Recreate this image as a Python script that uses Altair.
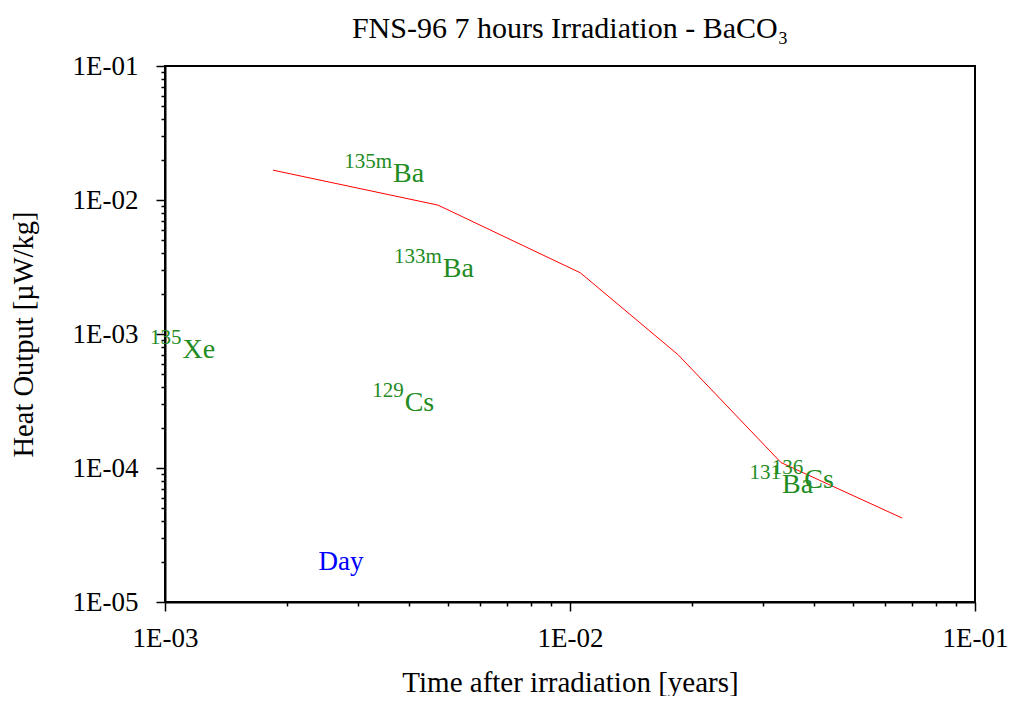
import altair as alt
import pandas as pd

# Heat output curve (years, µW/kg)
line_years = [1.848e-3, 4.72e-3, 1.061e-2, 1.849e-2, 3.32e-2, 6.61e-2]
line_heat = [1.67e-2, 9.16e-3, 2.86e-3, 7.0e-4, 1.097e-4, 4.23e-5]

# Nuclide annotations
label_mass = ["135m", "133m", "135", "129", "131", "136"]
label_elem = ["Ba", "Ba", "Xe", "Cs", "Ba", "Cs"]
label_years = [3.657e-3, 4.853e-3, 1.105e-3, 3.906e-3, 3.339e-2, 3.788e-2]
label_heat = [1.368e-2, 2.642e-3, 6.677e-4, 2.652e-4, 6.55e-5, 7.09e-5]

# Time marker annotation
day_text = ["Day"]
day_years = [2.393e-3]
day_heat = [1.722e-5]

x_ticks = [m * 10.0 ** e for e in (-3, -2) for m in range(1, 10)] + [1e-1]
y_ticks = [m * 10.0 ** e for e in (-5, -4, -3, -2) for m in range(1, 10)] + [1e-1]

FONT = "Liberation Serif"
decade = "abs(log(datum.value)/LN10 - round(log(datum.value)/LN10)) < 0.000001"
label_expr = f"({decade}) ? '1E-0' + (-round(log(datum.value)/LN10)) : ''"
tick_size = {"condition": {"test": decade, "value": 9}, "value": 4}

line_df = pd.DataFrame({"x": line_years, "y": line_heat})
lab_df = pd.DataFrame({"x": label_years, "y": label_heat, "mass": label_mass, "elem": label_elem})
day_df = pd.DataFrame({"x": day_years, "y": day_heat, "t": day_text})

x_scale = alt.Scale(type="log", domain=[1e-3, 1e-1], nice=False)
y_scale = alt.Scale(type="log", domain=[1e-5, 1e-1], nice=False)

x_axis = alt.Axis(
    values=x_ticks, labelExpr=label_expr, tickSize=tick_size, tickWidth=1.5,
    tickColor="black", domainColor="black", domainWidth=2, grid=False,
    labelFont=FONT, labelFontSize=27, labelColor="black", labelPadding=14,
    labelOverlap=False, labelFlush=False, labelBound=False,
    title="Time after irradiation [years]", titleFont=FONT, titleFontSize=29,
    titleFontWeight="normal", titleColor="black", titlePadding=17,
)
y_axis = alt.Axis(
    values=y_ticks, labelExpr=label_expr, tickSize=tick_size, tickWidth=1.5,
    tickColor="black", domainColor="black", domainWidth=2, grid=False,
    labelFont=FONT, labelFontSize=27, labelColor="black", labelPadding=18,
    labelOverlap=False, labelFlush=False, labelBound=False,
    title="Heat Output [µW/kg]", titleFont=FONT, titleFontSize=28.5,
    titleFontWeight="normal", titleColor="black", titlePadding=34,
)

X = alt.X("x:Q", scale=x_scale, axis=x_axis)
Y = alt.Y("y:Q", scale=y_scale, axis=y_axis)

line = alt.Chart(line_df).mark_line(color="#ff0000", strokeWidth=1).encode(
    x=X, y=Y, order=alt.Order("x:Q"),
)

elem = alt.Chart(lab_df).mark_text(
    align="left", baseline="alphabetic", font=FONT, fontSize=28, color="#228b22"
).encode(x=X, y=Y, text="elem:N")

mass = alt.Chart(lab_df).mark_text(
    align="right", baseline="alphabetic", font=FONT, fontSize=21, color="#228b22",
    dx=-1, dy=-14,
).encode(x=X, y=Y, text="mass:N")

day = alt.Chart(day_df).mark_text(
    align="left", baseline="alphabetic", font=FONT, fontSize=27, color="#0000ff"
).encode(x=X, y=Y, text="t:N")

chart = alt.layer(line, elem, mass, day).properties(
    width=810,
    height=536,
    background="white",
    autosize=alt.AutoSizeParams(type="none"),
    padding={"left": 157, "top": 58, "right": 35, "bottom": 94},
    title=alt.TitleParams(
        text="FNS-96 7 hours Irradiation - BaCO₃",
        font=FONT, fontSize=30, fontWeight="normal", color="black",
        anchor="middle", offset=8,
    ),
).configure_view(stroke="black", strokeWidth=2)

chart.save("out.html", embed_options={"renderer": "svg", "actions": False})
